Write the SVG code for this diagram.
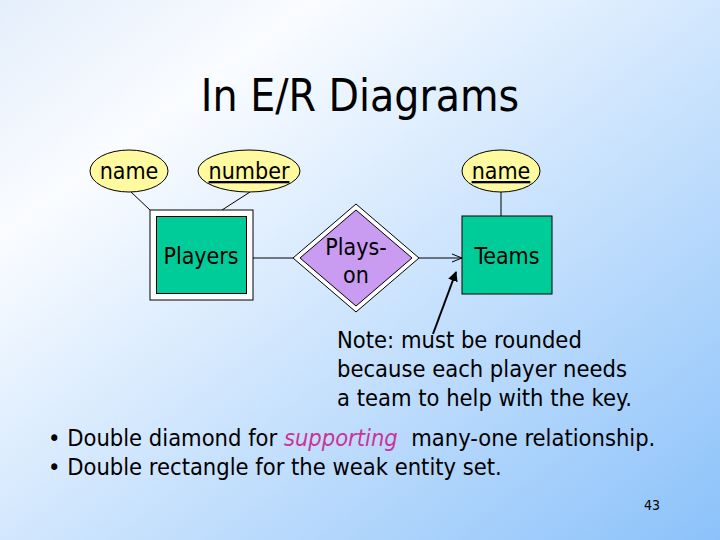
<svg xmlns="http://www.w3.org/2000/svg" width="720" height="540" viewBox="0 0 720 540">
<defs>
<linearGradient id="bg" x1="0" y1="0" x2="1" y2="1">
<stop offset="0" stop-color="#e4eefb"/>
<stop offset="0.22" stop-color="#fafcff"/>
<stop offset="1" stop-color="#8cc2fa"/>
</linearGradient>
<marker id="open" viewBox="0 0 10 10" refX="10" refY="5" markerWidth="10" markerHeight="10" markerUnits="userSpaceOnUse" orient="auto">
<path d="M0,1 L10,5 L0,9" fill="none" stroke="#000" stroke-width="1"/>
</marker>
<marker id="solid" viewBox="0 0 10 10" refX="9" refY="5" markerWidth="5" markerHeight="5" orient="auto">
<path d="M0,0 L10,5 L0,10 z" fill="#000"/>
</marker>
</defs>
<style>
text{font-family:"DejaVu Sans Condensed","DejaVu Sans",sans-serif;fill:#000}
.lbl{font-size:23px;text-anchor:middle}
.attr{fill:#fff9a0;stroke:#000;stroke-width:1}
.ent{fill:#00cc99;stroke:#000;stroke-width:1}
.outer{fill:#fff;stroke:#000;stroke-width:1}
.rel{fill:#c99cf2;stroke:#000;stroke-width:1}
.ln{stroke:#000;stroke-width:1;fill:none}
.body{font-size:23.5px}
</style>
<rect width="720" height="540" fill="url(#bg)"/>
<text x="360" y="111" style="font-size:44px" text-anchor="middle">In E/R Diagrams</text>
<g id="connectors">
<line class="ln" x1="131" y1="192" x2="150" y2="210"/>
<line class="ln" x1="250" y1="192" x2="222" y2="210"/>
<line class="ln" x1="253" y1="258" x2="293" y2="258"/>
<line class="ln" x1="419" y1="258" x2="462" y2="258" marker-end="url(#open)"/>
<line class="ln" x1="501" y1="192" x2="501" y2="216"/>
</g>
<g id="attr-player-name">
<ellipse class="attr" cx="129" cy="171" rx="39" ry="21"/>
<text class="lbl" x="129" y="179">name</text>
</g>
<g id="attr-number">
<ellipse class="attr" cx="249" cy="171" rx="51" ry="21"/>
<text class="lbl" x="249" y="179" text-decoration="underline">number</text>
</g>
<g id="attr-team-name">
<ellipse class="attr" cx="501" cy="171" rx="39" ry="21"/>
<text class="lbl" x="501" y="179" text-decoration="underline">name</text>
</g>
<g id="players">
<rect class="outer" x="150" y="210" width="103" height="90"/>
<rect class="ent" x="156.5" y="216.5" width="90" height="77"/>
<text class="lbl" x="201" y="264">Players</text>
</g>
<g id="plays-on">
<polygon class="outer" points="356,204 419,258 356,312 293,258"/>
<polygon class="rel" points="356,210 412,258 356,306 300,258"/>
<text class="lbl" x="356" y="255">Plays-</text>
<text class="lbl" x="356" y="283">on</text>
</g>
<g id="teams">
<rect class="ent" x="462" y="216" width="90" height="78"/>
<text class="lbl" x="507" y="264">Teams</text>
</g>
<g id="note">
<line x1="433" y1="334" x2="456" y2="272" stroke="#000" stroke-width="2" marker-end="url(#solid)"/>
<text class="body" x="337" y="348">Note: must be rounded</text>
<text class="body" x="337" y="377">because each player needs</text>
<text class="body" x="337" y="406">a team to help with the key.</text>
</g>
<g id="bullets">
<text class="body" x="48" y="446">• Double diamond for <tspan fill="#cc3399" font-style="italic">supporting</tspan>&#160; many-one relationship.</text>
<text class="body" x="48" y="475">• Double rectangle for the weak entity set.</text>
</g>
<text x="660" y="510" style="font-size:14px" text-anchor="end">43</text>
</svg>
